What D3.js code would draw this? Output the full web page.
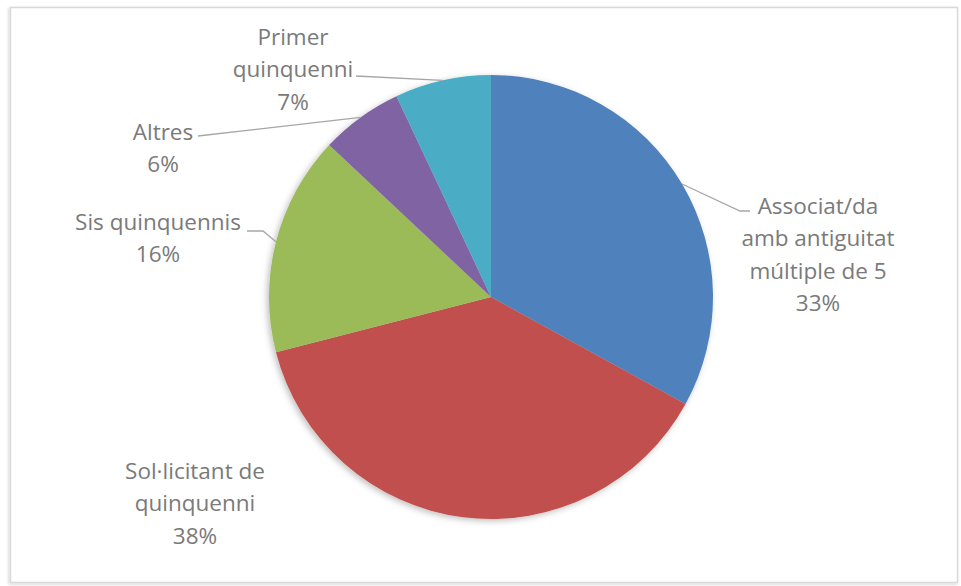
<!DOCTYPE html>
<html><head><meta charset="utf-8">
<script src="https://cdn.jsdelivr.net/npm/d3@7"></script>
<style>body{margin:0;background:#fff}svg{display:block}</style>
</head><body>
<svg id="c" width="961" height="586"></svg>
<script>
const categories = ["Associat/da amb antiguitat múltiple de 5","Sol·licitant de quinquenni","Sis quinquennis","Altres","Primer quinquenni"];
const labelLines = [["Associat/da","amb antiguitat","múltiple de 5"],["Sol·licitant de","quinquenni"],["Sis quinquennis"],["Altres"],["Primer","quinquenni"]];
const values = [33,38,16,6,7];
const colors = ["#4F81BD","#C0504D","#9BBB59","#8064A2","#4BACC6"];

// layout (label block centers, first line y) and leader elbows
const layout = [
  {x:818, y:206, elbow:[[740,211],[750,211]], leader:true},
  {x:195, y:471, elbow:null, leader:false},
  {x:158, y:222, elbow:[[263,231],[247,231]], leader:true},
  {x:163, y:132, elbow:[[198,136]], leader:true},
  {x:293, y:37, elbow:[[356,76]], leader:true}
];

const svg = d3.select("#c");
const W=961,H=586, cx=491, cy=297, r=222;
const defs = svg.append("defs");
const f = defs.append("filter").attr("id","sh").attr("x","-20%").attr("y","-20%").attr("width","140%").attr("height","140%");
f.append("feDropShadow").attr("dx",-2).attr("dy",2).attr("stdDeviation",3).attr("flood-color","#000").attr("flood-opacity",0.25);
const f2 = defs.append("filter").attr("id","fs").attr("x","-5%").attr("y","-5%").attr("width","110%").attr("height","110%");
f2.append("feDropShadow").attr("dx",-1).attr("dy",1).attr("stdDeviation",1.5).attr("flood-color","#000").attr("flood-opacity",0.2);

svg.append("rect").attr("x",10.5).attr("y",7.5).attr("width",947).attr("height",575)
  .attr("fill","#fff").attr("stroke","#d9d9d9").attr("stroke-width",1.5).attr("filter","url(#fs)");

const pie = d3.pie().sort(null).value(d=>d)(values);
const arc = d3.arc().innerRadius(0).outerRadius(r);
const g = svg.append("g").attr("transform",`translate(${cx},${cy})`);
const pg = g.append("g").attr("filter","url(#sh)");
pg.selectAll("path").data(pie).join("path").attr("d",arc).attr("fill",(d,i)=>colors[i]);

const fmt = d3.format(".0%");
const total = d3.sum(values);
pie.forEach((d,i)=>{
  const L = layout[i];
  if(L.leader){
    const a=(d.startAngle+d.endAngle)/2;
    const p=[cx+r*Math.sin(a), cy-r*Math.cos(a)];
    const pts=[p].concat(L.elbow);
    svg.append("path").attr("d",d3.line()(pts)).attr("fill","none").attr("stroke","#a6a6a6").attr("stroke-width",1.3);
  }
  const t = svg.append("text").attr("text-anchor","middle").attr("font-family","'Open Sans',sans-serif")
    .attr("font-size",22.5).attr("fill","#7a7a7a");
  const lines = labelLines[i].concat([fmt(values[i]/total)]);
  lines.forEach((s,k)=>{
    t.append("tspan").attr("x",L.x).attr("y",L.y+k*32.5).attr("dy","0.35em").text(s);
  });
});
</script>
</body></html>
